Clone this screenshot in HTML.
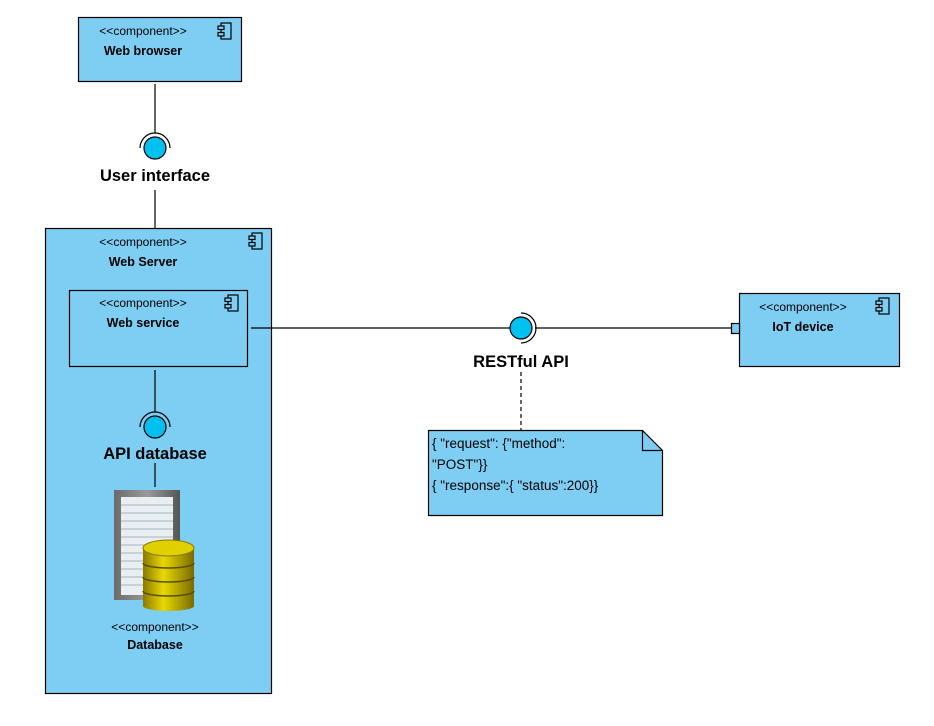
<!DOCTYPE html>
<html><head><meta charset="utf-8"><style>
html,body{margin:0;padding:0;background:#fff;}
svg{display:block;font-family:"Liberation Sans",Arial,sans-serif;}
</style></head><body>
<svg width="934" height="726" viewBox="0 0 934 726" xmlns="http://www.w3.org/2000/svg">
<defs>
<g id="ic">
<rect x="3" y="0" width="10" height="16" fill="none" stroke="#000" stroke-width="1.2"/>
<rect x="0" y="3" width="6" height="3.5" fill="#7ecef4" stroke="#000" stroke-width="1.2"/>
<rect x="0" y="9.5" width="6" height="3.5" fill="#7ecef4" stroke="#000" stroke-width="1.2"/>
</g>
<linearGradient id="rack" x1="0" x2="1"><stop offset="0" stop-color="#6a6a6a"/><stop offset="0.5" stop-color="#9a9a9a"/><stop offset="1" stop-color="#555"/></linearGradient>
<linearGradient id="gold" x1="0" x2="1"><stop offset="0" stop-color="#8a7a00"/><stop offset="0.4" stop-color="#e8d800"/><stop offset="1" stop-color="#7a6a00"/></linearGradient>
</defs>
<g stroke="#000" stroke-width="1.2" fill="#7ecef4">
<rect x="78.5" y="17.5" width="163" height="64"/>
<rect x="45.5" y="228.5" width="226" height="465"/>
<rect x="69.5" y="290.5" width="178" height="76"/>
<rect x="739.5" y="293.5" width="160" height="73"/>
<path d="M428.5 430.5 H642.5 L662.5 450.5 V515.5 H428.5 Z"/>
<path d="M642.5 430.5 V450.5 H662.5" fill="none"/>
<rect x="731.5" y="323.5" width="8" height="10"/>
</g>
<g stroke="#000" stroke-width="1.2" fill="none">
<line x1="155" y1="84" x2="155" y2="133"/>
<line x1="155" y1="190" x2="155" y2="228"/>
<line x1="155" y1="370" x2="155" y2="412"/>
<line x1="155" y1="463" x2="155" y2="487"/>
<line x1="251" y1="328" x2="510" y2="328"/>
<line x1="535" y1="328" x2="731" y2="328"/>
<line x1="521" y1="372" x2="521" y2="430" stroke-dasharray="4,3"/>
<path d="M140 148 A15 15 0 0 1 170 148"/>
<path d="M140 427 A15 15 0 0 1 170 427"/>
<path d="M521 313 A15 15 0 0 1 521 343"/>
</g>
<g fill="#00c0f0" stroke="#000" stroke-width="1.2">
<circle cx="155" cy="148" r="11"/>
<circle cx="155" cy="427" r="11"/>
<circle cx="521" cy="328" r="11"/>
</g>
<use href="#ic" x="218" y="23"/>
<use href="#ic" x="249" y="233"/>
<use href="#ic" x="225" y="295"/>
<use href="#ic" x="876" y="298"/>
<rect x="114" y="490" width="66" height="110" fill="url(#rack)"/>
<rect x="121" y="497" width="52" height="98" fill="#e8eef2"/>
<g stroke="#a8b4bc" stroke-width="1">
<line x1="121" y1="505" x2="173" y2="505"/><line x1="121" y1="513" x2="173" y2="513"/><line x1="121" y1="521" x2="173" y2="521"/><line x1="121" y1="529" x2="173" y2="529"/><line x1="121" y1="537" x2="173" y2="537"/><line x1="121" y1="545" x2="173" y2="545"/><line x1="121" y1="553" x2="173" y2="553"/><line x1="121" y1="561" x2="173" y2="561"/><line x1="121" y1="569" x2="173" y2="569"/><line x1="121" y1="577" x2="173" y2="577"/><line x1="121" y1="585" x2="173" y2="585"/>
</g>
<rect x="143" y="548" width="51" height="58" fill="url(#gold)"/>
<ellipse cx="168.5" cy="606" rx="25.5" ry="5" fill="url(#gold)"/>
<g stroke="#5a4e00" stroke-width="1.5" fill="none">
<path d="M143 563 A25.5 5 0 0 0 194 563"/><path d="M143 577 A25.5 5 0 0 0 194 577"/><path d="M143 591 A25.5 5 0 0 0 194 591"/>
</g>
<ellipse cx="168.5" cy="548" rx="25.5" ry="8" fill="#e0d000" stroke="#8a7a00"/>
<g font-size="12" text-anchor="middle">
<text x="143" y="35">&lt;&lt;component&gt;&gt;</text>
<text x="143" y="246">&lt;&lt;component&gt;&gt;</text>
<text x="143" y="307">&lt;&lt;component&gt;&gt;</text>
<text x="803" y="311">&lt;&lt;component&gt;&gt;</text>
<text x="155" y="631">&lt;&lt;component&gt;&gt;</text>
</g>
<g font-size="12.5" font-weight="bold" text-anchor="middle">
<text x="143" y="55">Web browser</text>
<text x="143" y="266">Web Server</text>
<text x="143" y="327">Web service</text>
<text x="803" y="331">IoT device</text>
<text x="155" y="649">Database</text>
</g>
<g font-size="16.5" font-weight="bold" text-anchor="middle">
<text x="155" y="181">User interface</text>
<text x="155" y="459">API database</text>
<text x="521" y="367">RESTful API</text>
</g>
<g font-size="13.5">
<text x="432" y="448">{ "request": {"method":</text>
<text x="432" y="469">"POST"}}</text>
<text x="432" y="490">{ "response":{ "status":200}}</text>
</g>
</svg>
</body></html>
